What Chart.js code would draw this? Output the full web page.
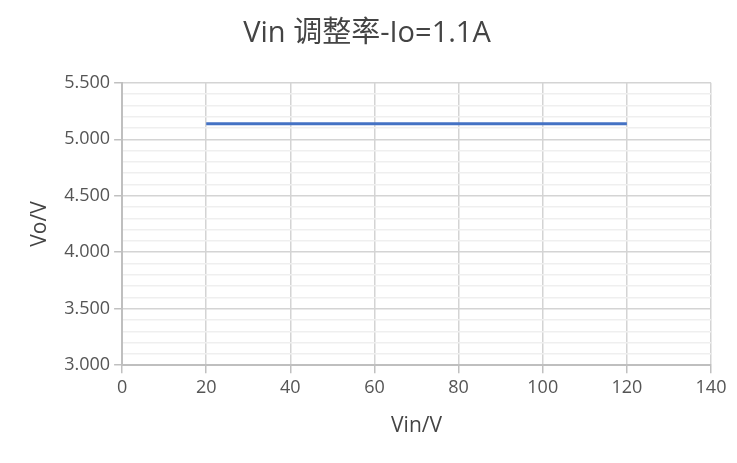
<!DOCTYPE html>
<html>
<head>
<meta charset="utf-8">
<script src="https://cdn.jsdelivr.net/npm/chart.js@4"></script>
<style>
  html, body { margin: 0; padding: 0; background: #fff; }
  #wrap { width: 737px; height: 463px; }
</style>
</head>
<body>
<div id="wrap"><canvas id="chart"></canvas></div>
<script>
const vin = [20, 40, 60, 80, 100, 120];
const vout = [5.138, 5.138, 5.138, 5.138, 5.138, 5.138];
const chartTitle = 'Vin 调整率-Io=1.1A';
const xTitle = 'Vin/V';
const yTitle = 'Vo/V';

const FONT = '"Open Sans", "Noto Sans CJK SC", sans-serif';

function isMajor(v) {
  return Math.abs(v * 2 - Math.round(v * 2)) < 1e-6;
}

const ctx = document.getElementById('chart').getContext('2d');
new Chart(ctx, {
  type: 'scatter',
  data: {
    datasets: [{
      data: vin.map((x, i) => ({ x: x, y: vout[i] })),
      showLine: true,
      borderColor: '#4472c4',
      borderWidth: 3,
      pointRadius: 0,
      fill: false
    }]
  },
  options: {
    responsive: true,
    maintainAspectRatio: false,
    animation: false,
    layout: { padding: { left: 23, right: 26, top: 8, bottom: 20 } },
    plugins: {
      legend: { display: false },
      tooltip: { enabled: false },
      title: {
        display: true,
        text: chartTitle,
        color: '#444',
        font: { family: FONT, size: 29, weight: 'normal' },
        padding: { top: 8, bottom: 32 }
      }
    },
    scales: {
      x: {
        type: 'linear',
        min: 0,
        max: 140,
        ticks: { stepSize: 20, color: '#555', font: { family: FONT, size: 18 }, padding: 4 },
        grid: { color: '#d4d4d4', lineWidth: 1.5, tickLength: 8, tickColor: '#c0c0c0' },
        border: { color: '#bfbfbf', width: 2 },
        title: { display: true, text: xTitle, color: '#444', font: { family: FONT, size: 21 }, padding: { top: 11 } }
      },
      y: {
        min: 3.0,
        max: 5.5,
        ticks: {
          stepSize: 0.1,
          autoSkip: false,
          color: '#555',
          font: { family: FONT, size: 18 },
          padding: 4,
          callback: v => isMajor(v) ? v.toFixed(3) : ''
        },
        grid: {
          color: c => isMajor(c.tick.value) ? '#d4d4d4' : '#efefef',
          lineWidth: 1.5,
          tickLength: 8,
          tickColor: c => isMajor(c.tick.value) ? '#c0c0c0' : 'rgba(0,0,0,0)'
        },
        border: { color: '#bfbfbf', width: 2 },
        title: { display: true, text: yTitle, color: '#444', font: { family: FONT, size: 21 }, padding: { bottom: 8 } }
      }
    }
  }
});
</script>
</body>
</html>
